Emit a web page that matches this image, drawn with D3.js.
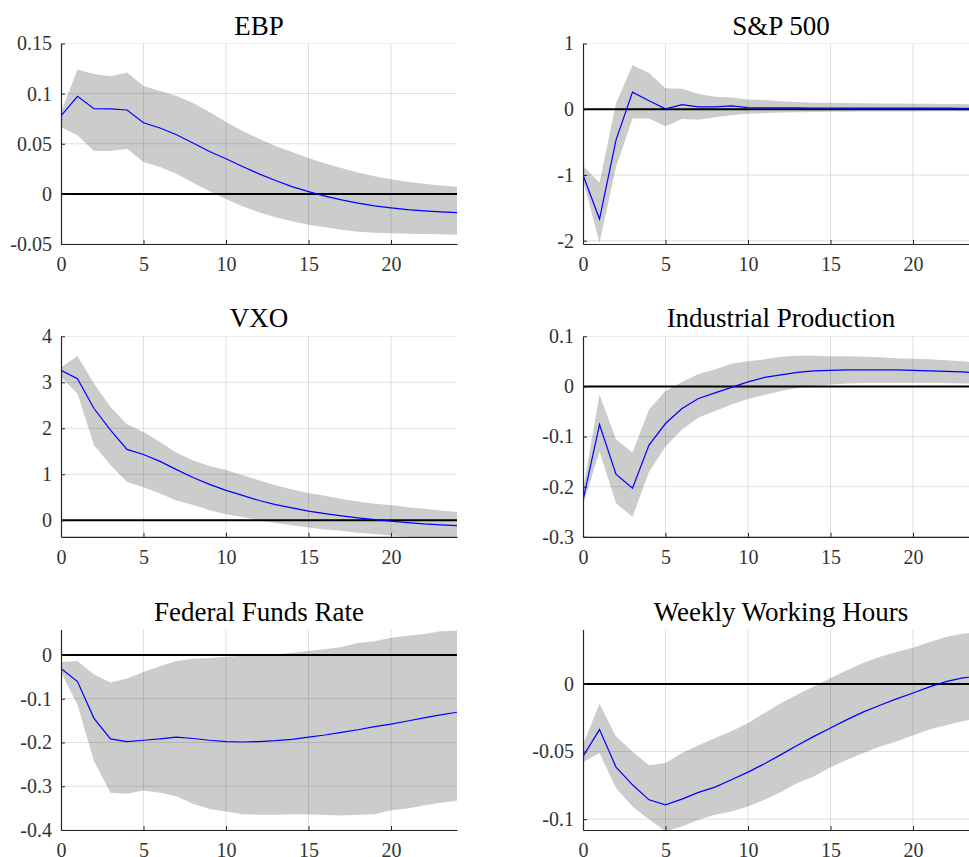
<!DOCTYPE html>
<html>
<head>
<meta charset="utf-8">
<script src="https://cdn.jsdelivr.net/npm/d3@7"></script>
<style>
  html, body { margin: 0; padding: 0; background: #fff; }
  svg { display: block; }
  svg text { font-family: "Liberation Serif", "Times New Roman", serif !important; }
</style>
</head>
<body>
<svg id="chart" width="969" height="857"></svg>
<script>
// Impulse responses (horizon 0..24), median with error band
const horizon = d3.range(0, 25);
const xTicks = [0, 5, 10, 15, 20];

const ebpMid = [0.0777, 0.0973, 0.085, 0.0847, 0.0837, 0.071, 0.0657, 0.059, 0.0507, 0.0423, 0.035, 0.0273, 0.02, 0.0133, 0.0073, 0.0023, -0.0023, -0.006, -0.0093, -0.012, -0.014, -0.0157, -0.017, -0.018, -0.0187];
const ebpHi  = [0.082, 0.124, 0.1197, 0.1173, 0.121, 0.1077, 0.1027, 0.0977, 0.0907, 0.0817, 0.0717, 0.0627, 0.055, 0.0477, 0.0417, 0.0357, 0.0303, 0.0257, 0.0213, 0.0177, 0.0147, 0.012, 0.01, 0.0083, 0.007];
const ebpLo  = [0.0667, 0.0583, 0.0427, 0.0427, 0.045, 0.0317, 0.0267, 0.02, 0.011, 0.0027, -0.005, -0.0123, -0.0183, -0.0233, -0.0273, -0.0307, -0.0333, -0.0357, -0.0377, -0.0387, -0.0393, -0.0397, -0.04, -0.0403, -0.0407];
const ebpTicks = [-0.05, 0, 0.05, 0.1, 0.15];

const spMid = [-1.0, -1.67, -0.47, 0.26, 0.13, 0.005, 0.07, 0.036, 0.036, 0.05, 0.025, 0.022, 0.02, 0.02, 0.019, 0.019, 0.018, 0.018, 0.017, 0.017, 0.016, 0.016, 0.016, 0.015, 0.015];
const spHi  = [-0.86, -1.12, 0.09, 0.67, 0.55, 0.32, 0.31, 0.23, 0.19, 0.18, 0.15, 0.14, 0.12, 0.11, 0.10, 0.097, 0.093, 0.09, 0.088, 0.086, 0.084, 0.082, 0.08, 0.078, 0.076];
const spLo  = [-1.08, -2.03, -0.88, -0.14, -0.14, -0.26, -0.15, -0.16, -0.12, -0.09, -0.07, -0.06, -0.05, -0.045, -0.042, -0.04, -0.038, -0.036, -0.035, -0.034, -0.033, -0.032, -0.031, -0.03, -0.03];
const spTicks = [-2, -1, 0, 1];

const vxoMid = [3.26, 3.08, 2.43, 1.96, 1.54, 1.43, 1.28, 1.10, 0.93, 0.78, 0.65, 0.54, 0.43, 0.34, 0.27, 0.20, 0.145, 0.094, 0.05, 0.014, -0.02, -0.05, -0.08, -0.10, -0.116];
const vxoHi  = [3.32, 3.57, 2.97, 2.46, 2.09, 1.92, 1.70, 1.47, 1.30, 1.18, 1.09, 0.98, 0.87, 0.76, 0.67, 0.59, 0.53, 0.46, 0.41, 0.36, 0.33, 0.28, 0.25, 0.21, 0.18];
const vxoLo  = [3.12, 2.75, 1.63, 1.20, 0.83, 0.72, 0.58, 0.43, 0.33, 0.22, 0.13, 0.07, 0.0, -0.06, -0.11, -0.16, -0.2, -0.23, -0.27, -0.30, -0.33, -0.36, -0.38, -0.40, -0.42];
const vxoTicks = [0, 1, 2, 3, 4];

const ipMid = [-0.227, -0.076, -0.175, -0.203, -0.117, -0.074, -0.044, -0.024, -0.013, -0.002, 0.009, 0.018, 0.023, 0.028, 0.031, 0.032, 0.033, 0.033, 0.033, 0.033, 0.032, 0.031, 0.030, 0.029, 0.027];
const ipHi  = [-0.207, -0.016, -0.106, -0.132, -0.046, -0.009, 0.009, 0.025, 0.034, 0.045, 0.05, 0.054, 0.059, 0.061, 0.061, 0.060, 0.060, 0.059, 0.058, 0.056, 0.055, 0.054, 0.052, 0.050, 0.047];
const ipLo  = [-0.237, -0.130, -0.233, -0.26, -0.170, -0.120, -0.086, -0.062, -0.049, -0.036, -0.025, -0.017, -0.009, -0.003, 0.001, 0.004, 0.006, 0.007, 0.007, 0.007, 0.007, 0.007, 0.007, 0.006, 0.005];
const ipTicks = [-0.3, -0.2, -0.1, 0, 0.1];

const ffrMid = [-0.031, -0.061, -0.145, -0.192, -0.198, -0.195, -0.192, -0.188, -0.191, -0.195, -0.198, -0.199, -0.198, -0.196, -0.193, -0.188, -0.183, -0.177, -0.171, -0.164, -0.158, -0.151, -0.144, -0.137, -0.131];
const ffrHi  = [-0.016, -0.014, -0.045, -0.063, -0.054, -0.039, -0.026, -0.014, -0.009, -0.007, -0.004, -0.002, -0.002, 0.001, 0.005, 0.009, 0.013, 0.018, 0.027, 0.031, 0.039, 0.044, 0.048, 0.054, 0.056];
const ffrLo  = [-0.039, -0.114, -0.243, -0.315, -0.317, -0.31, -0.315, -0.323, -0.34, -0.352, -0.358, -0.364, -0.365, -0.365, -0.364, -0.364, -0.366, -0.367, -0.365, -0.364, -0.355, -0.351, -0.344, -0.338, -0.333];
const ffrTicks = [-0.4, -0.3, -0.2, -0.1, 0];

const wwhMid = [-0.0536, -0.0338, -0.0615, -0.0746, -0.0857, -0.0894, -0.0852, -0.0802, -0.0763, -0.0709, -0.0652, -0.059, -0.0523, -0.0454, -0.0388, -0.0326, -0.0264, -0.0207, -0.0158, -0.0111, -0.0067, -0.0022, 0.0017, 0.0044, 0.0057];
const wwhHi  = [-0.045, -0.0146, -0.0388, -0.0499, -0.0602, -0.0585, -0.0511, -0.0454, -0.04, -0.0351, -0.0289, -0.0215, -0.0141, -0.0079, -0.0017, 0.0044, 0.0101, 0.0156, 0.02, 0.0235, 0.0267, 0.0309, 0.0346, 0.037, 0.0385];
const wwhLo  = [-0.058, -0.0511, -0.077, -0.0906, -0.1, -0.109, -0.1054, -0.1005, -0.0968, -0.0943, -0.0906, -0.0857, -0.08, -0.0733, -0.0684, -0.0617, -0.056, -0.0511, -0.0462, -0.0425, -0.038, -0.0338, -0.0306, -0.0277, -0.0252];
const wwhTicks = [-0.1, -0.05, 0];

const panels = [
  { title: "EBP", mid: ebpMid, hi: ebpHi, lo: ebpLo, ticks: ebpTicks, ylim: [-0.05, 0.15] },
  { title: "S&P 500", mid: spMid, hi: spHi, lo: spLo, ticks: spTicks, ylim: [-2.05, 1] },
  { title: "VXO", mid: vxoMid, hi: vxoHi, lo: vxoLo, ticks: vxoTicks, ylim: [-0.36, 4] },
  { title: "Industrial Production", mid: ipMid, hi: ipHi, lo: ipLo, ticks: ipTicks, ylim: [-0.3, 0.1] },
  { title: "Federal Funds Rate", mid: ffrMid, hi: ffrHi, lo: ffrLo, ticks: ffrTicks, ylim: [-0.4, 0.058] },
  { title: "Weekly Working Hours", mid: wwhMid, hi: wwhHi, lo: wwhLo, ticks: wwhTicks, ylim: [-0.108, 0.0402] }
];

// Grid layout: two columns, three rows
const colX = [61, 583];
const plotW = 396;
const rowY = [43.5, 336.3, 629.5];
const plotH = 200.5;
const serif = '"Liberation Serif", "Times New Roman", serif';

const svg = d3.select("#chart");
const fmt = v => String(+v.toFixed(4));

panels.forEach((p, i) => {
  const col = i % 2, row = Math.floor(i / 2);
  const g = svg.append("g").attr("transform", `translate(${colX[col]},${rowY[row]})`);

  const x = d3.scaleLinear().domain([0, 24]).range([0, plotW]);
  const y = d3.scaleLinear().domain(p.ylim).range([plotH, 0]);

  const clipId = "clip" + i;
  g.append("clipPath").attr("id", clipId)
    .append("rect").attr("x", 0).attr("y", 0).attr("width", plotW).attr("height", plotH);

  const body = g.append("g").attr("clip-path", `url(#${clipId})`);

  // error band
  const area = d3.area()
    .x((d, k) => x(horizon[k]))
    .y0((d, k) => y(p.lo[k]))
    .y1((d, k) => y(p.hi[k]));
  body.append("path").datum(p.mid).attr("d", area).attr("fill", "#cccccc");

  // grid
  body.selectAll(".gx").data(xTicks.filter(t => t > 0)).join("line")
    .attr("x1", d => x(d)).attr("x2", d => x(d))
    .attr("y1", 0).attr("y2", plotH)
    .attr("stroke", "#000").attr("stroke-opacity", 0.12).attr("stroke-width", 1);
  body.selectAll(".gy").data(p.ticks).join("line")
    .attr("x1", 0).attr("x2", plotW)
    .attr("y1", d => y(d)).attr("y2", d => y(d))
    .attr("stroke", "#000").attr("stroke-opacity", 0.12).attr("stroke-width", 1);

  // zero line
  body.append("line")
    .attr("x1", 0).attr("x2", plotW)
    .attr("y1", y(0)).attr("y2", y(0))
    .attr("stroke", "#000").attr("stroke-width", 2);

  // median response
  const line = d3.line().x((d, k) => x(horizon[k])).y(d => y(d));
  body.append("path").datum(p.mid).attr("d", line)
    .attr("fill", "none").attr("stroke", "#0000ff").attr("stroke-width", 1.2);

  // axes
  const xAxis = d3.axisBottom(x).tickValues(xTicks).tickFormat(d3.format("d"))
    .tickSizeInner(-4).tickSizeOuter(0).tickPadding(13);
  const yAxis = d3.axisLeft(y).tickValues(p.ticks).tickFormat(fmt)
    .tickSizeInner(-4).tickSizeOuter(0).tickPadding(9);

  const gx = g.append("g").attr("transform", `translate(0,${plotH})`).call(xAxis);
  const gy = g.append("g").call(yAxis);
  [gx, gy].forEach(a => {
    a.attr("font-family", serif).attr("font-size", 20);
    a.select(".domain").attr("stroke", "#262626").attr("stroke-width", 1.2);
    a.selectAll(".tick line").attr("stroke", "#262626").attr("stroke-width", 1);
    a.selectAll(".tick text").attr("fill", "#333333")
      .attr("font-family", serif).attr("font-size", 20);
  });

  // title
  g.append("text")
    .attr("x", plotW / 2).attr("y", -9)
    .attr("text-anchor", "middle")
    .attr("fill", "#000")
    .attr("font-family", serif)
    .attr("font-size", 27)
    .text(p.title);
});
</script>
</body>
</html>
